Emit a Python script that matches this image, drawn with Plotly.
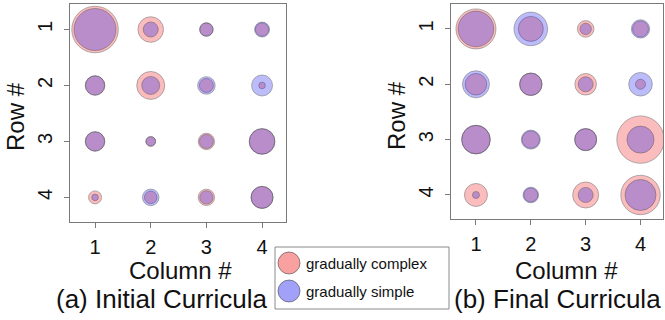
import plotly.graph_objects as go

columns = [1, 2, 3, 4]
rows = [1, 2, 3, 4]
tick_labels = ["1", "2", "3", "4"]

# estimated circle radii (row-major: rows 1..4, columns 1..4)
initial_complex = [
    [23.3, 12.8, 6.7, 6.7],
    [9.7, 14.0, 7.0, 3.3],
    [9.7, 4.8, 8.2, 12.8],
    [6.5, 6.3, 8.2, 11.0],
]
initial_simple = [
    [21.0, 7.5, 6.7, 7.5],
    [9.7, 9.0, 8.8, 10.5],
    [9.7, 4.8, 7.0, 12.8],
    [3.3, 8.3, 6.7, 11.0],
]
final_complex = [
    [20.0, 12.5, 8.3, 8.0],
    [10.8, 11.2, 10.8, 5.0],
    [14.3, 8.7, 11.0, 23.7],
    [11.5, 7.0, 13.0, 19.7],
]
final_simple = [
    [17.8, 16.8, 5.7, 9.2],
    [13.5, 11.2, 7.5, 11.8],
    [14.3, 9.5, 11.0, 13.5],
    [3.5, 7.8, 7.5, 15.5],
]
series_names = ["gradually complex", "gradually simple"]
panel_titles = ["(a) Initial Curricula", "(b) Final Curricula"]

PINK = "rgba(240,20,20,0.40)"
BLUE = "rgba(20,20,240,0.40)"
EDGE = "rgba(60,60,60,0.55)"
FONT = "Liberation Sans, Arial, sans-serif"
W, H = 665, 320

fig = go.Figure()


def flat(grid):
    xs, ys, ss = [], [], []
    for i, r in enumerate(rows):
        for j, c in enumerate(columns):
            xs.append(c)
            ys.append(r)
            ss.append(grid[i][j])
    return xs, ys, ss


panels = [(initial_complex, initial_simple, "x", "y"),
          (final_complex, final_simple, "x2", "y2")]
for comp, simp, xa, ya in panels:
    for grid, color, name in [(comp, PINK, series_names[0]), (simp, BLUE, series_names[1])]:
        xs, ys, ss = flat(grid)
        fig.add_trace(go.Scatter(
            x=xs, y=ys, mode="markers", name=name, showlegend=False,
            xaxis=xa, yaxis=ya,
            marker=dict(size=ss, sizemode="diameter", sizeref=0.5,
                        color=color, line=dict(color=EDGE, width=1)),
        ))


def px_x(p):
    return p / W


def px_y(p):
    return 1 - p / H


axis_common = dict(
    showgrid=False, zeroline=False, showline=True, mirror=True,
    linecolor="#7a7a7a", linewidth=1, automargin=False,
    ticks="outside", ticklen=5, tickcolor="#7a7a7a",
    tickvals=[1, 2, 3, 4], ticktext=tick_labels,
    tickfont=dict(family=FONT, size=20, color="#111"),
)

fig.update_layout(
    width=W, height=H, margin=dict(l=0, r=0, t=0, b=0),
    paper_bgcolor="white", plot_bgcolor="white",
    showlegend=False,
    xaxis=dict(domain=[px_x(70), px_x(286)], range=[0.55, 4.43], anchor="y",
               ticklabelstandoff=2, **axis_common),
    yaxis=dict(domain=[px_y(222), px_y(4)], range=[4.44, 0.544], anchor="x",
               tickangle=-90, ticklabelstandoff=4, **axis_common),
    xaxis2=dict(domain=[px_x(451), px_x(663)], range=[0.545, 4.41], anchor="y2",
                ticklabelstandoff=2, **axis_common),
    yaxis2=dict(domain=[px_y(219), px_y(4)], range=[4.434, 0.55], anchor="x2",
                tickangle=-90, ticklabelstandoff=4, **axis_common),
)

ann = []
for cx, tx, t in [(180, 161, panel_titles[0]), (566, 557, panel_titles[1])]:
    ann.append(dict(x=px_x(cx), y=px_y(270), xref="paper", yref="paper",
                    text="Column #", showarrow=False,
                    font=dict(family=FONT, size=24, color="#111"),
                    xanchor="center", yanchor="middle"))
    ann.append(dict(x=px_x(tx), y=px_y(299), xref="paper", yref="paper",
                    text=t, showarrow=False,
                    font=dict(family=FONT, size=26, color="#111"),
                    xanchor="center", yanchor="middle"))
for cx, cy in [(15, 117), (396, 116)]:
    ann.append(dict(x=px_x(cx), y=px_y(cy), xref="paper", yref="paper",
                    text="Row #", showarrow=False, textangle=-90,
                    font=dict(family=FONT, size=24, color="#111"),
                    xanchor="center", yanchor="middle"))

# legend drawn manually (box, swatches, labels)
shapes = [dict(type="rect", xref="paper", yref="paper",
               x0=px_x(275), x1=px_x(449), y0=px_y(309), y1=px_y(247),
               line=dict(color="#8a8a8a", width=1), fillcolor="white", layer="above")]
for k, (color, name) in enumerate([(PINK, series_names[0]), (BLUE, series_names[1])]):
    cy = 263 + 28 * k
    shapes.append(dict(type="circle", xref="paper", yref="paper",
                       x0=px_x(278), x1=px_x(300), y0=px_y(cy + 11), y1=px_y(cy - 11),
                       fillcolor=color, line=dict(color=EDGE, width=1), layer="above"))
    ann.append(dict(x=px_x(304), y=px_y(cy), xref="paper", yref="paper",
                    text=name, showarrow=False,
                    font=dict(family=FONT, size=15, color="#111"),
                    xanchor="left", yanchor="middle"))

fig.update_layout(annotations=ann, shapes=shapes)
fig.write_html("out.html",
               config={"displayModeBar": False},
               post_script="document.body.style.margin='0';document.body.style.overflow='hidden';")
